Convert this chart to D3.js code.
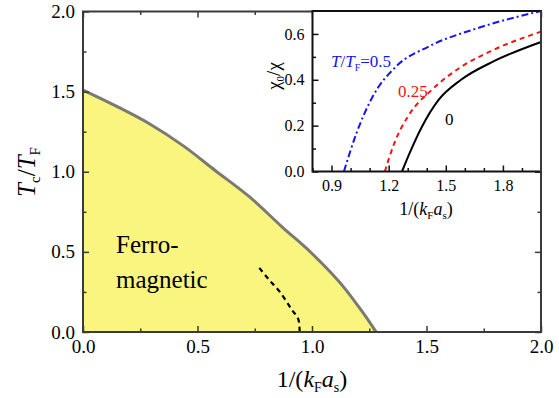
<!DOCTYPE html>
<html>
<head>
<meta charset="utf-8">
<script src="https://cdn.jsdelivr.net/npm/d3@7"></script>
<style>
  body { margin: 0; background: #fff; }
</style>
</head>
<body>
<script>
// Phase diagram with inset

const SERIF = "'Liberation Serif', 'Times New Roman', serif";

// main panel: Tc/TF boundary
const phaseX = [0, 0.145, 0.29, 0.44, 0.58, 0.73, 0.87, 1.0, 1.15, 1.2, 1.25, 1.28];
const phaseY = [1.51, 1.41, 1.30, 1.16, 1.005, 0.84, 0.655, 0.49, 0.26, 0.165, 0.065, 0];
// black dashed line inside the yellow region
const dashX = [0.77, 0.81, 0.86, 0.91, 0.94, 0.946];
const dashY = [0.40, 0.33, 0.25, 0.143, 0.08, 0];

const mainTicks = [0, 0.5, 1.0, 1.5, 2.0];
const mainMinor = [0.25, 0.75, 1.25, 1.75];

// inset: chi0/chi for T/TF = 0, 0.25, 0.5
const t0X = [1.27, 1.31, 1.374, 1.46, 1.58, 1.75, 2.0];
const t0Y = [0, 0.08, 0.194, 0.31, 0.40, 0.48, 0.565];
const t25X = [1.18, 1.228, 1.305, 1.425, 1.58, 1.75, 2.0];
const t25Y = [0, 0.12, 0.245, 0.355, 0.456, 0.53, 0.61];
const t5X = [0.965, 1.03, 1.115, 1.236, 1.41, 1.666, 2.0];
const t5Y = [0, 0.165, 0.325, 0.456, 0.545, 0.625, 0.70];

const insetXTicks = [0.9, 1.2, 1.5, 1.8];
const insetXMinor = [0.8, 1.0, 1.1, 1.3, 1.4, 1.6, 1.7, 1.9];
const insetYTicks = [0, 0.2, 0.4, 0.6];
const insetYMinor = [0.1, 0.3, 0.5];

const W = 559, H = 398;
const svg = d3.select("body").append("svg")
    .attr("width", W)
    .attr("height", H)
    .attr("font-family", SERIF);

const x = d3.scaleLinear().domain([0, 2]).range([83, 541]);
const y = d3.scaleLinear().domain([0, 2]).range([332, 11.5]);

const zip = (a, b) => a.map((v, i) => [v, b[i]]);

// yellow region
const area = d3.area()
    .x(d => x(d[0]))
    .y0(y(0))
    .y1(d => y(d[1]))
    .curve(d3.curveMonotoneX);
svg.append("path")
    .datum(zip(phaseX, phaseY))
    .attr("d", area)
    .attr("fill", "#f9f57f");

const line = d3.line()
    .x(d => x(d[0]))
    .y(d => y(d[1]))
    .curve(d3.curveMonotoneX);
svg.append("path")
    .datum(zip(phaseX, phaseY))
    .attr("d", line)
    .attr("fill", "none")
    .attr("stroke", "#7a7a72")
    .attr("stroke-width", 3);

svg.append("path")
    .datum(zip(dashX, dashY))
    .attr("d", d3.line().x(d => x(d[0])).y(d => y(d[1])).curve(d3.curveCatmullRom))
    .attr("fill", "none")
    .attr("stroke", "#000")
    .attr("stroke-width", 2.2)
    .attr("stroke-dasharray", "5,4");

// axes with ticks pointing inward
function frameAxes(g, xs, ys, xt, xm, yt, ym, fmtX, fmtY, fs, opts) {
    const x0 = xs.range()[0], x1 = xs.range()[1];
    const y0 = ys.range()[0], y1 = ys.range()[1];
    g.append("g").attr("transform", "translate(0," + y0 + ")")
        .call(d3.axisBottom(xs).tickValues(xt).tickSizeInner(-6).tickSizeOuter(0).tickPadding(8).tickFormat(fmtX));
    g.append("g").attr("transform", "translate(0," + y0 + ")")
        .call(d3.axisBottom(xs).tickValues(xm).tickSizeInner(-3.5).tickSizeOuter(0).tickFormat(""));
    g.append("g").attr("transform", "translate(" + x0 + ",0)")
        .call(d3.axisLeft(ys).tickValues(yt).tickSizeInner(-6).tickSizeOuter(0).tickPadding(8).tickFormat(fmtY));
    g.append("g").attr("transform", "translate(" + x0 + ",0)")
        .call(d3.axisLeft(ys).tickValues(ym).tickSizeInner(-3.5).tickSizeOuter(0).tickFormat(""));
    if (opts.mirror) {
        g.append("g").attr("transform", "translate(0," + y1 + ")")
            .call(d3.axisTop(xs).tickValues(xt).tickSizeInner(-6).tickSizeOuter(0).tickFormat(""));
        g.append("g").attr("transform", "translate(0," + y1 + ")")
            .call(d3.axisTop(xs).tickValues(xm).tickSizeInner(-3.5).tickSizeOuter(0).tickFormat(""));
        g.append("g").attr("transform", "translate(" + x1 + ",0)")
            .call(d3.axisRight(ys).tickValues(yt).tickSizeInner(-6).tickSizeOuter(0).tickFormat(""));
        g.append("g").attr("transform", "translate(" + x1 + ",0)")
            .call(d3.axisRight(ys).tickValues(ym).tickSizeInner(-3.5).tickSizeOuter(0).tickFormat(""));
    }
    g.selectAll("g").attr("font-family", SERIF).attr("font-size", fs);
    g.selectAll(".domain").remove();
    g.selectAll(".tick line").attr("stroke", opts.color).attr("stroke-width", 1.5);
    g.selectAll(".tick text").attr("fill", "#000");
    g.append("rect")
        .attr("x", x0).attr("y", y1)
        .attr("width", x1 - x0).attr("height", y0 - y1)
        .attr("fill", "none")
        .attr("stroke", opts.color)
        .attr("stroke-width", 2);
}

const mainAxes = svg.append("g");
frameAxes(mainAxes, x, y, mainTicks, mainMinor, mainTicks, mainMinor,
    d3.format(".1f"), d3.format(".1f"), 19, {mirror: true, color: "#3a3a3a"});

// main axis titles
const xt = svg.append("text")
    .attr("x", 312).attr("y", 387)
    .attr("text-anchor", "middle")
    .attr("font-size", 24);
xt.append("tspan").text("1/(");
xt.append("tspan").attr("font-style", "italic").text("k");
xt.append("tspan").attr("font-size", 14).attr("dy", 5).text("F");
xt.append("tspan").attr("font-style", "italic").attr("dy", -5).text("a");
xt.append("tspan").attr("font-size", 14).attr("dy", 5).text("s");
xt.append("tspan").attr("dy", -5).text(")");

const yt = svg.append("text")
    .attr("transform", "translate(35,172) rotate(-90)")
    .attr("text-anchor", "middle")
    .attr("font-size", 25);
yt.append("tspan").attr("font-style", "italic").text("T");
yt.append("tspan").attr("font-size", 15).attr("dy", 5).text("c");
yt.append("tspan").attr("dy", -5).text("/");
yt.append("tspan").attr("font-style", "italic").text("T");
yt.append("tspan").attr("font-size", 15).attr("dy", 5).text("F");

svg.append("text").attr("x", 116).attr("y", 253).attr("font-size", 25).text("Ferro-");
svg.append("text").attr("x", 116).attr("y", 288).attr("font-size", 25).text("magnetic");

// inset panel
const ix = d3.scaleLinear().domain([0.8, 2.0]).range([312.5, 541]);
const iy = d3.scaleLinear().domain([0, 0.7]).range([171.5, 11]);

svg.append("rect")
    .attr("x", 312.5).attr("y", 11)
    .attr("width", 541 - 312.5).attr("height", 171.5 - 11)
    .attr("fill", "#fff");

const iline = d3.line()
    .x(d => ix(d[0]))
    .y(d => iy(d[1]))
    .curve(d3.curveMonotoneX);

svg.append("path").datum(zip(t5X, t5Y)).attr("d", iline)
    .attr("fill", "none").attr("stroke", "#1515ee").attr("stroke-width", 2)
    .attr("stroke-dasharray", "7,3,2,3");
svg.append("path").datum(zip(t25X, t25Y)).attr("d", iline)
    .attr("fill", "none").attr("stroke", "#ee1515").attr("stroke-width", 2)
    .attr("stroke-dasharray", "5,4");
svg.append("path").datum(zip(t0X, t0Y)).attr("d", iline)
    .attr("fill", "none").attr("stroke", "#000").attr("stroke-width", 2);

const insetAxes = svg.append("g");
frameAxes(insetAxes, ix, iy, insetXTicks, insetXMinor, insetYTicks, insetYMinor,
    d3.format(".1f"), d3.format(".1f"), 16, {mirror: false, color: "#111"});
// main frame's right border over the inset edge
svg.append("line").attr("x1", 541).attr("x2", 541).attr("y1", 11).attr("y2", 172)
    .attr("stroke", "#3a3a3a").attr("stroke-width", 2);

const ixt = svg.append("text")
    .attr("x", 426).attr("y", 215)
    .attr("text-anchor", "middle")
    .attr("font-size", 18);
ixt.append("tspan").text("1/(");
ixt.append("tspan").attr("font-style", "italic").text("k");
ixt.append("tspan").attr("font-size", 11).attr("dy", 4).text("F");
ixt.append("tspan").attr("font-style", "italic").attr("dy", -4).text("a");
ixt.append("tspan").attr("font-size", 11).attr("dy", 4).text("s");
ixt.append("tspan").attr("dy", -4).text(")");

const iyt = svg.append("text")
    .attr("transform", "translate(280,76) rotate(-90)")
    .attr("text-anchor", "middle")
    .attr("font-size", 19);
iyt.append("tspan").text("\u03C7");
iyt.append("tspan").attr("font-size", 11).attr("dy", 4).text("0");
iyt.append("tspan").attr("dy", -4).text("/\u03C7");

const lb = svg.append("text").attr("x", 331).attr("y", 67)
    .attr("font-size", 17).attr("fill", "#1515ee");
lb.append("tspan").attr("font-style", "italic").text("T");
lb.append("tspan").text("/");
lb.append("tspan").attr("font-style", "italic").text("T");
lb.append("tspan").attr("font-size", 10).attr("dy", 4).text("F");
lb.append("tspan").attr("dy", -4).text("=0.5");

svg.append("text").attr("x", 398).attr("y", 97)
    .attr("font-size", 17).attr("fill", "#ee1515").text("0.25");
svg.append("text").attr("x", 445).attr("y", 125)
    .attr("font-size", 17).attr("fill", "#000").text("0");
</script>
</body>
</html>
